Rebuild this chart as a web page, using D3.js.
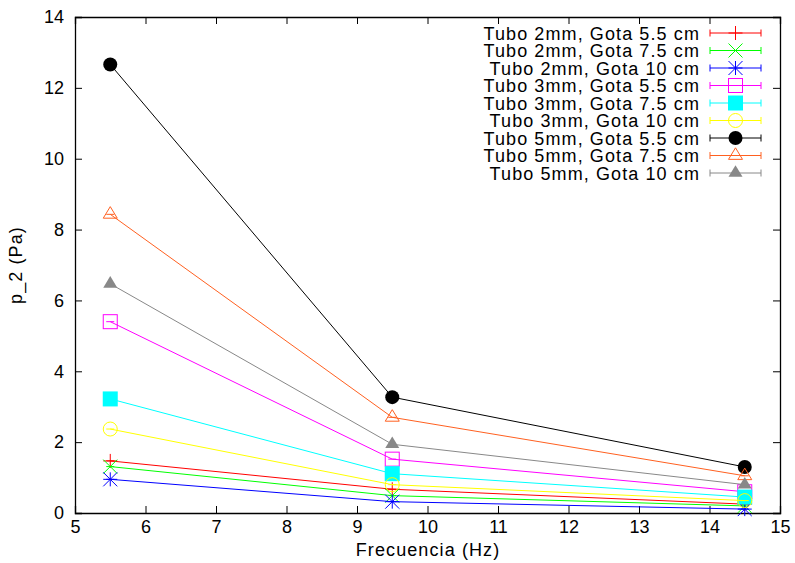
<!DOCTYPE html>
<html>
<head>
<meta charset="utf-8">
<script src="https://cdn.jsdelivr.net/npm/d3@7"></script>
<style>
  html, body { margin: 0; padding: 0; background: #fff; }
  svg { display: block; font-family: "Liberation Sans", Arial, Helvetica, sans-serif; }
</style>
</head>
<body>
<svg id="chart" width="795" height="563"></svg>
<script>
// Frequencies (Hz) at which p_2 was measured
const freq = [5.5, 9.5, 14.5];

// p_2 (Pa) for each tube diameter / drop height
const t2_55 = [1.47, 0.67, 0.25];
const t2_75 = [1.31, 0.49, 0.20];
const t2_10 = [0.95, 0.32, 0.11];
const t3_55 = [5.40, 1.52, 0.60];
const t3_75 = [3.22, 1.11, 0.45];
const t3_10 = [2.37, 0.80, 0.35];
const t5_55 = [12.66, 3.27, 1.30];
const t5_75 = [8.43, 2.70, 1.05];
const t5_10 = [6.47, 1.94, 0.80];

const seriesNames = [
  "Tubo 2mm, Gota 5.5 cm", "Tubo 2mm, Gota 7.5 cm", "Tubo 2mm, Gota 10 cm",
  "Tubo 3mm, Gota 5.5 cm", "Tubo 3mm, Gota 7.5 cm", "Tubo 3mm, Gota 10 cm",
  "Tubo 5mm, Gota 5.5 cm", "Tubo 5mm, Gota 7.5 cm", "Tubo 5mm, Gota 10 cm"
];
const seriesValues = [t2_55, t2_75, t2_10, t3_55, t3_75, t3_10, t5_55, t5_75, t5_10];
const seriesColors = ["#ff0000", "#00ff00", "#0000ff", "#ff00ff", "#00ffff",
                      "#ffff00", "#000000", "#ff6020", "#888888"];
const seriesMarkers = ["plus", "cross", "star", "square", "squareFilled",
                       "circle", "circleFilled", "triangle", "triangleFilled"];

const xTicks = [5, 6, 7, 8, 9, 10, 11, 12, 13, 14, 15];
const yTicks = [0, 2, 4, 6, 8, 10, 12, 14];

const svg = d3.select("#chart");
const plotLeft = 75, plotRight = 780, plotTop = 17, plotBottom = 513;

const x = d3.scaleLinear().domain([5, 15]).range([plotLeft, plotRight]);
const y = d3.scaleLinear().domain([0, 14]).range([plotBottom, plotTop]);

const fontSize = 18;
const spacing = "1.1px";

// Axes: ticks point inward, mirrored on top and right
const axisG = svg.append("g");
axisG.append("g").attr("transform", `translate(0,${plotBottom})`)
  .call(d3.axisBottom(x).tickValues(xTicks).tickSize(-7).tickPadding(7).tickFormat(d3.format("d")));
axisG.append("g").attr("transform", `translate(0,${plotTop})`)
  .call(d3.axisTop(x).tickValues(xTicks).tickSize(-7).tickFormat(""));
axisG.append("g").attr("transform", `translate(${plotLeft},0)`)
  .call(d3.axisLeft(y).tickValues(yTicks).tickSize(-7).tickPadding(11).tickFormat(d3.format("d")));
axisG.append("g").attr("transform", `translate(${plotRight},0)`)
  .call(d3.axisRight(y).tickValues(yTicks).tickSize(-7).tickFormat(""));
axisG.selectAll(".domain").attr("stroke", "#000").attr("stroke-width", 1.3);
axisG.selectAll(".tick line").attr("stroke", "#000").attr("stroke-width", 1);
axisG.selectAll(".tick text").attr("font-size", fontSize).attr("fill", "#000")
  .attr("font-family", "Liberation Sans, Arial, sans-serif");

// Axis titles
svg.append("text").attr("x", 428).attr("y", 556).attr("text-anchor", "middle")
  .attr("font-size", fontSize).attr("letter-spacing", spacing).text("Frecuencia (Hz)");
svg.append("text").attr("transform", "translate(22,265) rotate(-90)")
  .attr("text-anchor", "middle").attr("font-size", fontSize).attr("letter-spacing", spacing)
  .text("p_2 (Pa)");

// Point symbols, drawn around (0,0)
function drawMarker(g, type, color) {
  const s = 7;
  switch (type) {
    case "plus":
      g.append("path").attr("d", `M${-s},0H${s}M0,${-s}V${s}`).attr("stroke", color).attr("fill", "none");
      break;
    case "cross":
      g.append("path").attr("d", `M${-s},${-s}L${s},${s}M${-s},${s}L${s},${-s}`).attr("stroke", color).attr("fill", "none");
      break;
    case "star":
      g.append("path").attr("d", `M${-s},0H${s}M0,${-s}V${s}M${-s},${-s}L${s},${s}M${-s},${s}L${s},${-s}`)
        .attr("stroke", color).attr("fill", "none");
      break;
    case "square":
      g.append("rect").attr("x", -s).attr("y", -s).attr("width", 2 * s).attr("height", 2 * s)
        .attr("stroke", color).attr("fill", "none");
      break;
    case "squareFilled":
      g.append("rect").attr("x", -s - 0.5).attr("y", -s - 0.5).attr("width", 2 * s + 1).attr("height", 2 * s + 1)
        .attr("fill", color);
      break;
    case "circle":
      g.append("circle").attr("r", s).attr("stroke", color).attr("fill", "none");
      break;
    case "circleFilled":
      g.append("circle").attr("r", s).attr("fill", color);
      break;
    case "triangle":
      g.append("path").attr("d", `M0,${-s * 1.1}L${s},${s * 0.55}L${-s},${s * 0.55}Z`)
        .attr("stroke", color).attr("fill", "none");
      break;
    case "triangleFilled":
      g.append("path").attr("d", `M0,${-s * 1.1}L${s},${s * 0.55}L${-s},${s * 0.55}Z`)
        .attr("fill", color);
      break;
  }
}

// Series: connecting lines, zero-height error bar caps, and point symbols
const line = d3.line().x((d, i) => x(freq[i])).y(d => y(d));
seriesValues.forEach((vals, k) => {
  const color = seriesColors[k];
  const g = svg.append("g");
  g.append("path").datum(vals).attr("d", line)
    .attr("fill", "none").attr("stroke", color).attr("stroke-width", 1);
  vals.forEach((v, i) => {
    g.append("line").attr("x1", x(freq[i]) - 4).attr("x2", x(freq[i]) + 4)
      .attr("y1", y(v)).attr("y2", y(v)).attr("stroke", color).attr("stroke-width", 1);
    const m = g.append("g").attr("transform", `translate(${x(freq[i])},${y(v)})`);
    drawMarker(m, seriesMarkers[k], color);
  });
});

// Legend
const legend = svg.append("g");
seriesNames.forEach((name, k) => {
  const ry = 33 + k * 17.5;
  const color = seriesColors[k];
  legend.append("text").attr("x", 700).attr("y", ry + 6.5).attr("text-anchor", "end")
    .attr("font-size", fontSize).attr("letter-spacing", spacing).text(name);
  legend.append("path").attr("d", `M710,${ry}H761M710,${ry - 3.5}V${ry + 3.5}M761,${ry - 3.5}V${ry + 3.5}`)
    .attr("stroke", color).attr("fill", "none").attr("stroke-width", 1);
  const m = legend.append("g").attr("transform", `translate(735.5,${ry})`);
  drawMarker(m, seriesMarkers[k], color);
});
</script>
</body>
</html>
